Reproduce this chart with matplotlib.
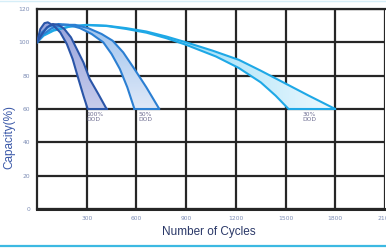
#!/usr/bin/env python
import matplotlib as mpl
mpl.use('Agg')
import matplotlib.pyplot as plt
from matplotlib.patches import Polygon
from matplotlib.colors import LinearSegmentedColormap
import numpy as np

# cycle life curves (cycles, capacity %)
# each band: an early-ending edge and a late-ending edge
dod100_a_x = [0, 20, 45, 65, 100, 140, 180, 215, 250, 280, 306]
dod100_a_y = [100, 108, 111.5, 112, 110, 106, 99, 90, 78, 68, 60]
dod100_b_x = [0, 30, 60, 95, 130, 165, 205, 240, 280, 318, 370, 420]
dod100_b_y = [100, 105, 109, 111, 110.5, 108, 103, 96, 88, 78, 69, 60]

dod50_a_x = [0, 30, 70, 130, 190, 260, 330, 400, 450, 500, 545, 588]
dod50_a_y = [100, 106, 109.5, 111, 110.5, 108.5, 105, 100, 93, 84, 73, 60]
dod50_b_x = [0, 40, 90, 160, 230, 310, 390, 456, 520, 588, 660, 738]
dod50_b_y = [100, 105, 108.5, 110.5, 110.5, 108.5, 105, 101, 94, 84, 73, 60]

dod30_a_x = [0, 40, 100, 200, 300, 420, 540, 660, 780, 900, 1080, 1218, 1350, 1440, 1518]
dod30_a_y = [100, 104.5, 107.5, 109.5, 110.3, 109.8, 108, 105.8, 102.5, 98.5, 91.5, 84.6, 76, 68, 60]
dod30_b_x = [0, 40, 100, 200, 300, 420, 540, 660, 780, 900, 1060, 1218, 1350, 1476, 1640, 1800]
dod30_b_y = [100, 104, 107, 109.5, 110.5, 110, 108.5, 106.5, 103.5, 100, 95, 89.5, 83, 76.5, 68, 60]

xticks = [300, 600, 900, 1200, 1500, 1800, 2100]
yticks = [0, 20, 40, 60, 80, 100, 120]
labels = ['100%\nDOD', '50%\nDOD', '30%\nDOD']
label_x = [300, 610, 1600]

fig = plt.figure(figsize=(3.86, 2.5), dpi=100)
ax = fig.add_axes([37/386, 1 - 209/250, 348/386, 200/250])

grid_c = '#262626'
ax.set_xlim(0, 2100)
ax.set_ylim(0, 120)
ax.set_xticks(xticks)
ax.set_yticks(yticks)
ax.grid(True, color=grid_c, linewidth=1.6, zorder=1)
ax.set_axisbelow(True)
for s in ['left', 'top']:
    ax.spines[s].set_color(grid_c)
    ax.spines[s].set_linewidth(1.6)
ax.spines['bottom'].set_color(grid_c)
ax.spines['bottom'].set_linewidth(2.2)
ax.spines['right'].set_visible(False)
ax.tick_params(length=0, labelsize=4.3, labelcolor='#7c8cb4')
ax.tick_params(axis='x', pad=5)
ax.tick_params(axis='y', pad=5)


def band(xa, ya, xb, yb, line_c, c_a, c_b, horizontal=False):
    pts = list(zip(xa, ya)) + list(zip(xb, yb))[::-1]
    poly = Polygon(pts, closed=True, facecolor='none', edgecolor='none')
    ax.add_patch(poly)
    cmap = LinearSegmentedColormap.from_list('g', [c_a, c_b])
    if horizontal:
        # left to right
        grad = np.linspace(0, 1, 256).reshape(1, -1)
    else:
        # top to bottom
        grad = np.linspace(0, 1, 256).reshape(-1, 1)
    im = ax.imshow(grad, cmap=cmap, aspect='auto', origin='upper',
                   extent=[0, max(xb), 58, 113], zorder=2)
    im.set_clip_path(poly)
    ax.plot(xa, ya, color=line_c, lw=1.5, zorder=3, solid_capstyle='round')
    ax.plot(xb, yb, color=line_c, lw=1.5, zorder=3, solid_capstyle='round')
    ax.plot([xa[-1], xb[-1]], [60, 60], color=line_c, lw=1.5, zorder=3)


band(dod30_a_x, dod30_a_y, dod30_b_x, dod30_b_y, '#1ea8e6', '#55c6f2', '#eef9fe', horizontal=True)
band(dod50_a_x, dod50_a_y, dod50_b_x, dod50_b_y, '#2b7fd2', '#9cc2ee', '#e2eaf8')
band(dod100_a_x, dod100_a_y, dod100_b_x, dod100_b_y, '#2a55a8', '#98a4dc', '#c8cdec')

ax.set_xlim(0, 2100)
ax.set_ylim(0, 120)

for t, x in zip(labels, label_x):
    ax.text(x, 58, t, fontsize=4.3, color='#6c6c90', va='top', ha='left',
            linespacing=1.0, zorder=4)

ax.set_xlabel('Number of Cycles', fontsize=8.5, color='#2a3868',
              family='Liberation Sans')
ax.xaxis.set_label_coords(0.495, -0.085)
ax.set_ylabel('Capacity(%)', fontsize=8.5, color='#3a58a8', family='Liberation Sans')
ax.yaxis.set_label_coords(-22/348, 0.36)

# frame lines of the picture
fig.add_artist(plt.Line2D([0, 1], [4/250, 4/250], color='#3cb9e2', lw=1.6))
fig.add_artist(plt.Line2D([0, 1], [249.5/250, 249.5/250], color='#d6eef8', lw=1.0))

fig.savefig('out.png', dpi=100)
